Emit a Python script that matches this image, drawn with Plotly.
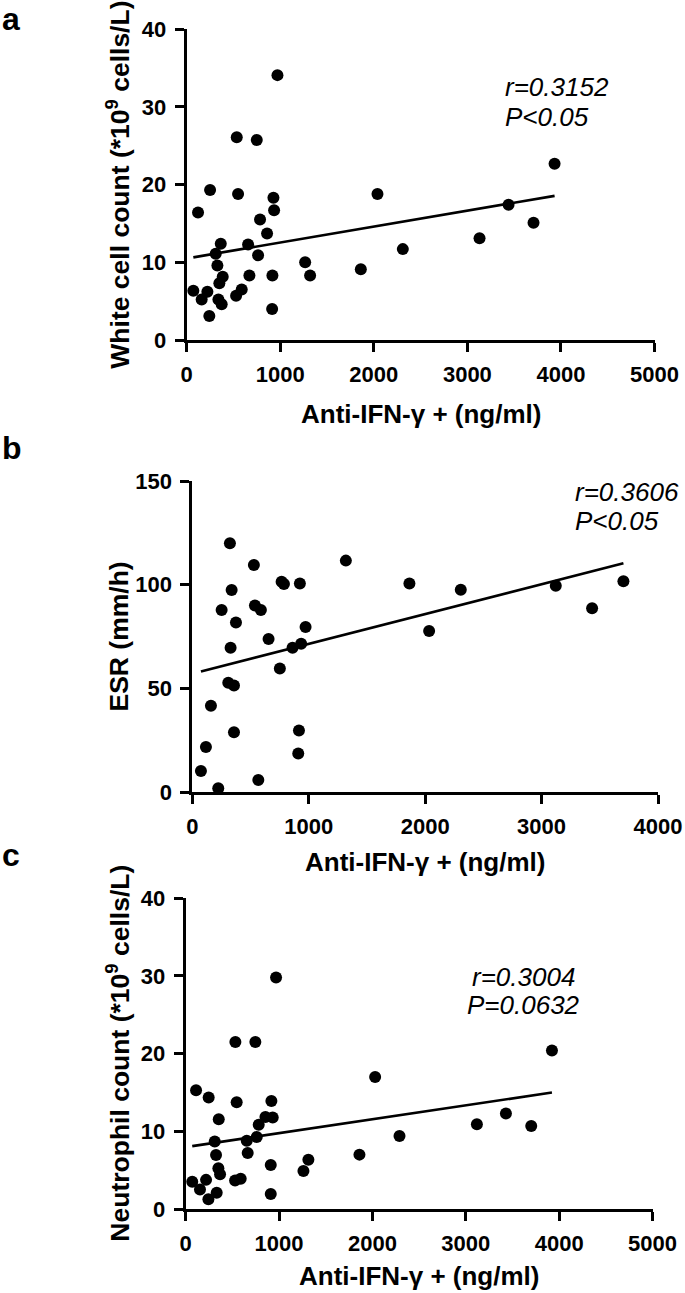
import numpy as np
import plotly.graph_objects as go

W, H = 685, 1293
FONT = "Arial, Liberation Sans, sans-serif"

# panel a - white cell count
wbc_x = [970, 535, 749, 250, 549, 927, 934, 121, 784, 859, 364, 656, 310, 763,
         328, 385, 349, 670, 916, 1266, 1319, 1861, 71, 160, 221, 339, 374,
         528, 588, 242, 913, 2039, 2310, 3130, 3440, 3707, 3932]
wbc_y = [34.1, 26.1, 25.75, 19.3, 18.8, 18.3, 16.7, 16.4, 15.5, 13.7, 12.4, 12.3,
         11.1, 10.9, 9.6, 8.15, 7.3, 8.3, 8.3, 10.0, 8.3, 9.1, 6.35, 5.2, 6.2,
         5.2, 4.6, 5.7, 6.5, 3.1, 4.0, 18.8, 11.7, 13.1, 17.4, 15.1, 22.7]

# panel b - ESR
esr_x = [323, 529, 1319, 767, 787, 924, 338, 252, 538, 589, 375, 973, 655, 329,
         861, 935, 752, 309, 358, 160, 358, 916, 117, 910, 74, 567, 223, 1865,
         2034, 2306, 3122, 3434, 3703]
esr_y = [120, 109.5, 111.6, 101.4, 100.3, 100.6, 97.4, 87.8, 89.9, 87.8, 81.7,
         79.6, 73.8, 69.6, 69.6, 71.5, 59.6, 52.7, 51.4, 41.6, 28.8, 29.7, 21.7,
         18.6, 10.1, 5.8, 1.8, 100.6, 77.6, 97.5, 99.5, 88.6, 101.6]

# panel c - neutrophil count
neut_x = [968, 532, 746, 2029, 111, 246, 546, 918, 354, 854, 932, 782, 2290,
          311, 761, 654, 325, 664, 911, 1314, 1261, 1861, 350, 368, 70, 218,
          529, 589, 153, 243, 332, 911, 3119, 3430, 3701, 3923]
neut_y = [29.8, 21.5, 21.5, 17.0, 15.3, 14.35, 13.75, 13.9, 11.55, 11.85, 11.77,
          10.86, 9.4, 8.7, 9.27, 8.8, 6.94, 7.2, 5.65, 6.34, 4.9, 7.0, 5.26, 4.48,
          3.5, 3.75, 3.66, 3.9, 2.5, 1.25, 2.1, 1.94, 10.9, 12.3, 10.7, 20.4]

panels = [
    dict(letter="a", x=wbc_x, y=wbc_y, xmax=5000, ymax=40, dy=10,
         ytitle="White cell count (*10<sup>9</sup> cells/L)",
         box=(186.7, 654.5, 29.3, 340), stat=["r=0.3152", "P<0.05"],
         stat_pos=(503, 87, 117), stat_align="left", letter_y=19, xt_y=414),
    dict(letter="b", x=esr_x, y=esr_y, xmax=4000, ymax=150, dy=50,
         ytitle="ESR (mm/h)",
         box=(192.3, 658, 481, 792), stat=["r=0.3606", "P<0.05"],
         stat_pos=(573, 492, 521), stat_align="left", letter_y=448, xt_y=862),
    dict(letter="c", x=neut_x, y=neut_y, xmax=5000, ymax=40, dy=10,
         ytitle="Neutrophil count (*10<sup>9</sup> cells/L)",
         box=(185.7, 652.5, 898.3, 1209), stat=["r=0.3004", "P=0.0632"],
         stat_pos=(523, 977, 1005), stat_align="center", letter_y=855, xt_y=1276),
]


def px(x):
    return x / W


def py(y):
    return 1 - y / H


def note(text, x, y, size, **kw):
    font = dict(family=FONT, size=size, color="black")
    font.update(kw.pop("font", {}))
    return dict(text=text, x=px(x), y=py(y), xref="paper", yref="paper",
                showarrow=False, yanchor="middle", font=font, **kw)


fig = go.Figure()
annotations = []

for i, p in enumerate(panels, start=1):
    sfx = "" if i == 1 else str(i)
    x0, x1, y0, y1 = p["box"]
    fig.add_trace(go.Scatter(
        x=p["x"], y=p["y"], mode="markers", xaxis="x" + sfx, yaxis="y" + sfx,
        marker=dict(size=12, color="black"), cliponaxis=False, showlegend=False))

    # linear regression line over the data range
    k, b = np.polyfit(p["x"], p["y"], 1)
    lx = np.array([min(p["x"]), max(p["x"])])
    fig.add_trace(go.Scatter(
        x=lx, y=k * lx + b, mode="lines", xaxis="x" + sfx, yaxis="y" + sfx,
        line=dict(color="black", width=2.7), showlegend=False))

    axis = dict(showgrid=False, zeroline=False, showline=True, linecolor="black",
                linewidth=3, ticks="outside", ticklen=9, tickwidth=3,
                tickcolor="black", ticklabelstandoff=4, automargin=False,
                tickfont=dict(family=FONT, size=22, color="black", weight="bold"))
    fig.update_layout(**{
        "xaxis" + sfx: dict(axis, domain=[px(x0), px(x1)], range=[0, p["xmax"]],
                            dtick=1000, anchor="y" + sfx),
        "yaxis" + sfx: dict(axis, domain=[py(y1), py(y0)], range=[0, p["ymax"]],
                            dtick=p["dy"], anchor="x" + sfx),
    })

    annotations.append(note(p["letter"], 0, p["letter_y"], 32, xanchor="left",
                            font=dict(weight="bold")))
    annotations.append(note("Anti-IFN-γ + (ng/ml)", (x0 + x1) / 2, p["xt_y"], 26,
                            xanchor="center", font=dict(weight="bold")))
    annotations.append(note(p["ytitle"], 118, (y0 + y1) / 2, 26.5, textangle=-90,
                            xanchor="center", font=dict(weight="bold")))
    sx, sy1, sy2 = p["stat_pos"]
    for txt, sy in zip(p["stat"], (sy1, sy2)):
        annotations.append(note("<i>" + txt + "</i>", sx, sy, 26,
                                xanchor=p["stat_align"]))

fig.update_layout(
    width=W, height=H, margin=dict(l=0, r=0, t=0, b=0, autoexpand=False),
    paper_bgcolor="white", plot_bgcolor="white",
    annotations=annotations,
)

fig.write_html("out.html", config={"displayModeBar": False},
               post_script="document.body.style.margin='0';")
